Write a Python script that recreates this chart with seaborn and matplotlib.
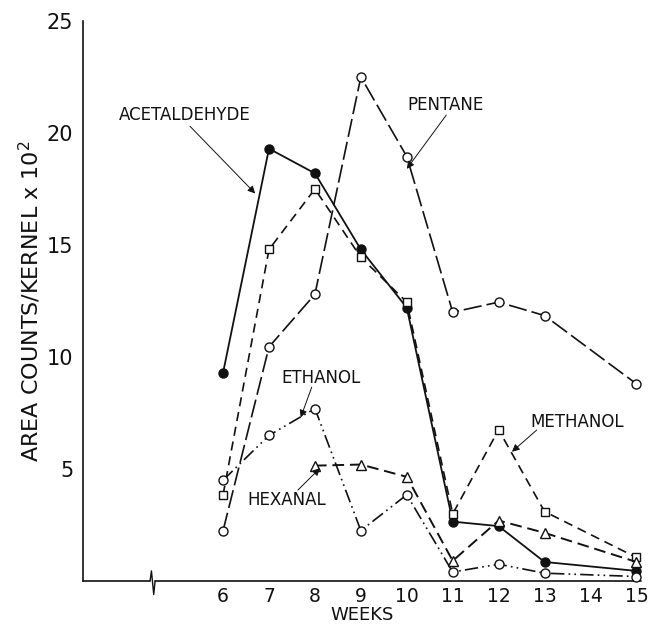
import matplotlib
matplotlib.use("Agg")
import matplotlib.pyplot as plt
import seaborn as sns
import pandas as pd

# ---- data ----
weeks_acetaldehyde = [6, 7, 8, 9, 10, 11, 12, 13, 15]
acetaldehyde = [9.3, 19.3, 18.2, 14.8, 12.2, 2.65, 2.45, 0.85, 0.45]

weeks_methanol = [6, 7, 8, 9, 10, 11, 12, 13, 15]
methanol = [3.85, 14.8, 17.5, 14.45, 12.45, 3.0, 6.75, 3.1, 1.05]

weeks_pentane = [6, 7, 8, 9, 10, 11, 12, 13, 15]
pentane = [2.25, 10.45, 12.8, 22.5, 18.95, 12.0, 12.45, 11.85, 8.8]

weeks_ethanol = [6, 7, 8, 9, 10, 11, 12, 13, 15]
ethanol = [4.5, 6.5, 7.7, 2.25, 3.85, 0.4, 0.75, 0.35, 0.2]

weeks_hexanal = [8, 9, 10, 11, 12, 13, 15]
hexanal = [5.15, 5.2, 4.65, 0.9, 2.7, 2.15, 0.85]

x_ticks = [6, 7, 8, 9, 10, 11, 12, 13, 14, 15]
y_ticks = [5, 10, 15, 20, 25]

sns.set_style("white")
plt.rcParams["font.family"] = ["DejaVu Sans"]

fig = plt.figure(figsize=(6.51, 6.29), dpi=100)
ax = fig.add_axes([83 / 651, 48 / 629, (641 - 83) / 651, (581 - 21) / 629])

K = "#111111"
series = [
    ("ACETALDEHYDE", weeks_acetaldehyde, acetaldehyde, "-", "o", K, 1.3),
    ("METHANOL", weeks_methanol, methanol, (0, (5.5, 3.5)), "s", "white", 1.2),
    ("PENTANE", weeks_pentane, pentane, (0, (11, 3)), "o", "white", 1.2),
    ("ETHANOL", weeks_ethanol, ethanol, (0, (8, 2.5, 1, 2.5, 1, 2.5)), "o", "white", 1.2),
    ("HEXANAL", weeks_hexanal, hexanal, (0, (6, 3)), "^", "white", 1.4),
]

for name, wx, wy, ls, mk, fc, lw in series:
    df = pd.DataFrame({"week": wx, "value": wy})
    sns.lineplot(data=df, x="week", y="value", ax=ax, color=K, linestyle=ls,
                 linewidth=lw, marker=mk, markersize=6.5 if mk != "s" else 5.5,
                 markerfacecolor=fc, markeredgecolor=K, markeredgewidth=1.0,
                 zorder=3, clip_on=False)

ax.set_xlim(2.95, 15.1)
ax.set_ylim(0, 25)
ax.set_xticks(x_ticks)
ax.set_yticks(y_ticks)
ax.set_xticklabels([str(t) for t in x_ticks])
ax.set_yticklabels([str(t) for t in y_ticks])
ax.tick_params(axis="y", direction="in", length=9, width=1.0, pad=7,
               labelsize=15, colors=K)
ax.tick_params(axis="x", direction="in", length=4, width=1.0, pad=4,
               labelsize=13.5, colors=K)

for s in ["top", "right", "bottom"]:
    ax.spines[s].set_visible(False)
ax.spines["left"].set_color(K)
ax.spines["left"].set_linewidth(1.2)

# bottom axis line with a break mark
xb = 4.47
ax.plot([2.95, xb - 0.06], [0, 0], color=K, lw=1.2, clip_on=False, zorder=2)
ax.plot([xb - 0.06, xb - 0.03, xb + 0.02, xb + 0.05],
        [0, 0.45, -0.6, 0], color=K, lw=1.0, clip_on=False, zorder=2)
ax.plot([xb + 0.05, 15.1], [0, 0], color=K, lw=1.2, clip_on=False, zorder=2)

ax.set_xlabel("WEEKS", fontsize=13, color=K, labelpad=0)
ax.set_ylabel("AREA COUNTS/KERNEL x 10$^2$", fontsize=16, color=K, labelpad=3)

# labels with arrows
arrow = dict(arrowstyle="-|>", lw=0.7, color=K, mutation_scale=11,
             shrinkA=0, shrinkB=0)
labels = [
    ("ACETALDEHYDE", (5.17, 20.8), (5.28, 20.3), (6.70, 17.3)),
    ("PENTANE", (10.84, 21.25), (10.86, 20.8), (10.0, 18.4)),
    ("ETHANOL", (8.13, 9.06), (7.93, 8.65), (7.69, 7.3)),
    ("HEXANAL", (7.39, 3.62), (7.63, 4.06), (8.11, 5.04)),
    ("METHANOL", (13.71, 7.10), (12.83, 6.74), (12.29, 5.77)),
]
for txt, tpos, a0, a1 in labels:
    ax.text(tpos[0], tpos[1], txt, fontsize=12, ha="center", va="center", color=K)
    ax.annotate("", xy=a1, xytext=a0, arrowprops=arrow)

fig.savefig("out.png", dpi=100, facecolor="white")
